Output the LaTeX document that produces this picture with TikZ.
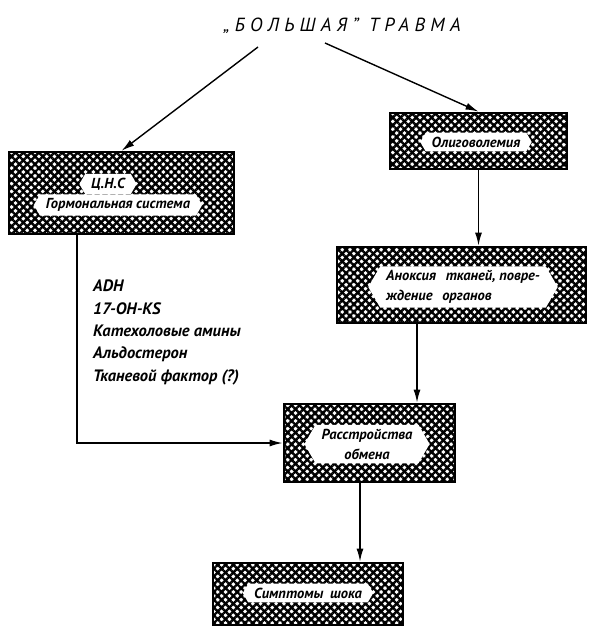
\documentclass[tikz,border=0pt]{standalone}
\usepackage{fontspec}
\setmainfont{PT Sans}
\usetikzlibrary{arrows.meta,patterns.meta,shapes.symbols,calc}
\begin{document}
\begin{tikzpicture}[x=1pt,y=-1pt,
  hatch/.style={draw=black, line width=2.8pt, inner sep=0pt,
    pattern={Lines[angle=45,distance=5.5pt,line width=2.4pt]},
    postaction={pattern={Lines[angle=-45,distance=5.5pt,line width=2.4pt]}}},
  clear/.style={signal, signal to=east and west, signal pointer angle=120,
    fill=white, inner xsep=6pt, inner ysep=4pt, align=center,
    font=\bfseries\itshape\fontsize{14.5}{20}\selectfont},
  conn/.style={line width=1.4pt, -{Latex[length=13pt,width=7pt]}},
  plain/.style={inner sep=0pt, font=\bfseries\itshape\fontsize{16.5}{22.3}\selectfont}]
\useasboundingbox (0,0) rectangle (590,627);

% title
\node[inner sep=0pt, font=\itshape\fontsize{19}{20}\selectfont\addfontfeatures{LetterSpace=28}] (title) at (342,26) {„БОЛЬШАЯ” ТРАВМА};

% hatched boxes
\node[hatch, minimum width=225pt, minimum height=82pt] (cns) at (121.5,193) {};
\node[hatch, minimum width=177pt, minimum height=56pt] (olig) at (478.5,141) {};
\node[hatch, minimum width=249pt, minimum height=76pt] (anox) at (461.5,285) {};
\node[hatch, minimum width=171pt, minimum height=78pt] (rasstr) at (369.5,443) {};
\node[hatch, minimum width=190pt, minimum height=62pt] (sympt) at (308,594) {};

% white clearings with text
\node[clear] (cnsA) at (108,184) {Ц.Н.С};
\node[clear] (cnsB) at (118,205) {Гормональная система};
\node[clear] (oligT) at (476,142) {Олиговолемия};
\node[clear, align=left] (anoxT) at (463,287) {Аноксия\hspace{6pt} тканей, повре-\\ждение\hspace{6pt} органов};
\node[clear] (rasstrT) at (367,444) {Расстройства\\обмена};
\node[clear] (symptT) at (308,593) {Симптомы\hspace{3pt} шока};

% list of factors
\node[plain, anchor=north west, align=left] (list) at (93,280)
  {ADH\\17-OH-KS\\Катехоловые амины\\Альдостерон\\Тканевой фактор (?)};

% connectors
\coordinate (tL) at (258,47);
\coordinate (tR) at (325,43);
\draw[conn] (tL) -- (cns.north);
\draw[conn] (tR) -- (olig.north);
\draw[conn] (olig.south) -- (olig.south |- anox.north);
\draw[conn] ([xshift=47.5pt]rasstr.north |- anox.south) -- ([xshift=47.5pt]rasstr.north);
\draw[conn] ([xshift=-9.5pt]rasstr.south) -- ([xshift=-9.5pt]rasstr.south |- sympt.north);
\draw[conn] ([xshift=-44.5pt]cns.south) |- (rasstr.west);
\end{tikzpicture}
\end{document}
